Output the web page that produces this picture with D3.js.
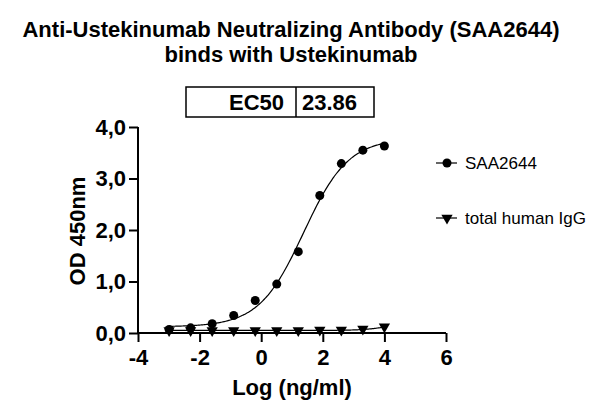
<!DOCTYPE html>
<html>
<head>
<meta charset="utf-8">
<script src="https://cdn.jsdelivr.net/npm/d3@7"></script>
<style>
  body { margin: 0; background: #fff; }
  svg { font-family: Arial, "Liberation Sans", sans-serif; }
</style>
</head>
<body>
<svg id="chart" width="608" height="417"></svg>
<script>
// log10 of concentration (ng/ml), 5-fold dilutions from 10000
const logConc = [-2.990, -2.291, -1.592, -0.893, -0.194, 0.505, 1.204, 1.903, 2.602, 3.301, 4.000];
const saa2644 = [0.07, 0.10, 0.18, 0.34, 0.63, 0.95, 1.58, 2.67, 3.29, 3.55, 3.63];
const humanIgG = [0.05, 0.05, 0.05, 0.05, 0.05, 0.05, 0.05, 0.06, 0.06, 0.08, 0.12];
const xTicks = [-4, -2, 0, 2, 4, 6];
const yTicks = [0, 1, 2, 3, 4];
const seriesNames = ['SAA2644', 'total human IgG'];
const ec50Label = ['EC50', '23.86'];

// 4PL fit parameters: bottom, top, logEC50, hill
const fitSAA = { bottom: 0.12, top: 3.78, logEC50: Math.log10(23.86), hill: 0.6 };
const fitIgG = { bottom: 0.05, top: 0.25, logEC50: 4.3, hill: 1.0 };

const svg = d3.select('#chart');

const x = d3.scaleLinear().domain([-4, 6]).range([138, 446]);
const y = d3.scaleLinear().domain([0, 4]).range([333, 127]);

// Title
svg.append('text')
  .attr('x', 291).attr('y', 36.5)
  .attr('text-anchor', 'middle')
  .attr('font-size', 22).attr('font-weight', 'bold')
  .text('Anti-Ustekinumab Neutralizing Antibody (SAA2644)');
svg.append('text')
  .attr('x', 291).attr('y', 62)
  .attr('text-anchor', 'middle')
  .attr('font-size', 22).attr('font-weight', 'bold')
  .text('binds with Ustekinumab');

// EC50 box
const box = svg.append('g');
box.append('rect')
  .attr('x', 186).attr('y', 87).attr('width', 188).attr('height', 30)
  .attr('fill', 'none').attr('stroke', '#000').attr('stroke-width', 1.5);
box.append('line')
  .attr('x1', 296).attr('x2', 296).attr('y1', 87).attr('y2', 117)
  .attr('stroke', '#000').attr('stroke-width', 1.5);
box.append('text')
  .attr('x', 284).attr('y', 110)
  .attr('text-anchor', 'end')
  .attr('font-size', 22).attr('font-weight', 'bold')
  .text(ec50Label[0]);
box.append('text')
  .attr('x', 302).attr('y', 110)
  .attr('font-size', 22).attr('font-weight', 'bold')
  .text(ec50Label[1]);

// Axes
const fmt = d => d3.format('.1f')(d).replace('.', ',');

const yAxis = svg.append('g')
  .attr('transform', `translate(${x(-4)},0)`)
  .call(d3.axisLeft(y).tickValues(yTicks).tickFormat(fmt).tickSize(9).tickPadding(3));

const xAxis = svg.append('g')
  .attr('transform', `translate(0,${y(0)})`)
  .call(d3.axisBottom(x).tickValues(xTicks).tickFormat(d3.format('d')).tickSize(9).tickPadding(7));

[xAxis, yAxis].forEach(ax => {
  ax.select('.domain').attr('stroke-width', 2);
  ax.selectAll('.tick line').attr('stroke-width', 2);
  ax.selectAll('.tick text')
    .attr('font-size', 22).attr('font-weight', 'bold')
    .attr('font-family', 'Arial, "Liberation Sans", sans-serif')
    .attr('fill', '#000');
});
// redraw domains without end ticks
yAxis.select('.domain').attr('d', `M0,${y(0)}V${y(4)}`);
xAxis.select('.domain').attr('d', `M${x(-4)},0H${x(6)}`);
xAxis.selectAll('.tick text').text(d => d < 0 ? '-' + Math.abs(d) : d);

// Axis labels
svg.append('text')
  .attr('x', 292).attr('y', 395)
  .attr('text-anchor', 'middle')
  .attr('font-size', 22).attr('font-weight', 'bold')
  .text('Log (ng/ml)');
svg.append('text')
  .attr('transform', 'translate(85,231) rotate(-90)')
  .attr('text-anchor', 'middle')
  .attr('font-size', 22).attr('font-weight', 'bold')
  .text('OD 450nm');

// Fit curves
const fourPL = p => v => p.bottom + (p.top - p.bottom) / (1 + Math.pow(10, (p.logEC50 - v) * p.hill));
const xs = d3.range(-3, 4.0001, 0.05);
const line = d3.line().x(d => x(d[0])).y(d => y(d[1])).curve(d3.curveBasis);

[fitSAA, fitIgG].forEach(p => {
  const f = fourPL(p);
  svg.append('path')
    .datum(xs.map(v => [v, f(v)]))
    .attr('fill', 'none').attr('stroke', '#000').attr('stroke-width', 1.2)
    .attr('d', line);
});

// Markers
const tri = d3.symbol().type(d3.symbolTriangle).size(55);

svg.append('g').selectAll('circle')
  .data(logConc.map((v, i) => [v, saa2644[i]]))
  .join('circle')
  .attr('cx', d => x(d[0])).attr('cy', d => y(d[1]))
  .attr('r', 4.5).attr('fill', '#000');

svg.append('g').selectAll('path')
  .data(logConc.map((v, i) => [v, humanIgG[i]]))
  .join('path')
  .attr('transform', d => `translate(${x(d[0])},${y(d[1])}) rotate(180)`)
  .attr('d', tri).attr('fill', '#000');

// Legend
const legendY = [163, 218];
const legend = svg.append('g');
seriesNames.forEach((name, i) => {
  const g = legend.append('g').attr('transform', `translate(447,${legendY[i]})`);
  g.append('line').attr('x1', -11).attr('x2', 10).attr('stroke', '#000').attr('stroke-width', 1.2);
  if (i === 0) {
    g.append('circle').attr('r', 4.5).attr('fill', '#000');
  } else {
    g.append('path').attr('d', tri).attr('transform', 'rotate(180)').attr('fill', '#000');
  }
  g.append('text')
    .attr('x', 18).attr('y', 6)
    .attr('font-size', 17)
    .text(name);
});
</script>
</body>
</html>
